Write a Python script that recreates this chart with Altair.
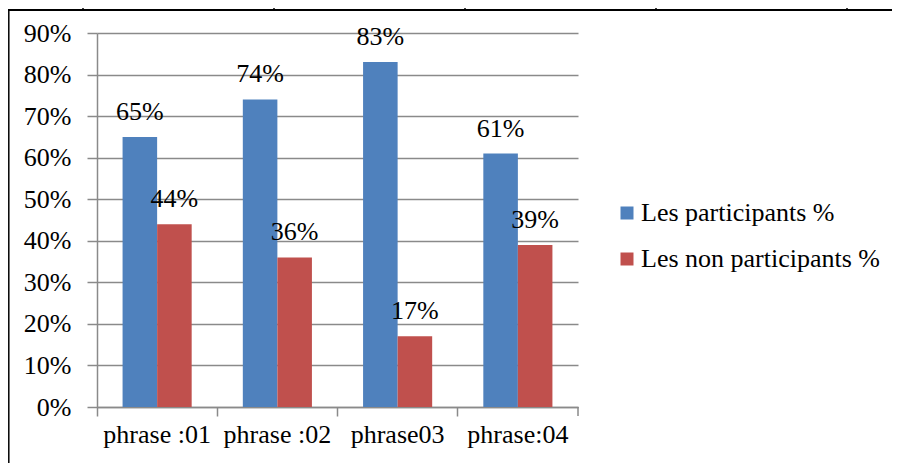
import altair as alt
import pandas as pd

phrases = ["phrase :01", "phrase :02", "phrase03", "phrase:04"]
series = ["Les participants %", "Les non participants %"]
participants = [65, 74, 83, 61]
non_participants = [44, 36, 17, 39]
y_ticks = [0, 10, 20, 30, 40, 50, 60, 70, 80, 90]
colors = ["#4F81BD", "#C0504D"]

rows = []
for p, a, b in zip(phrases, participants, non_participants):
    rows.append({"phrase": p, "serie": series[0], "val": a})
    rows.append({"phrase": p, "serie": series[1], "val": b})
df = pd.DataFrame(rows)

FONT = "'Liberation Serif', 'Times New Roman', 'DejaVu Serif', serif"
FS = 26
W, H = 481, 374

x_enc = alt.X("phrase:N", sort=phrases, title=None,
              scale=alt.Scale(paddingInner=0, paddingOuter=0),
              axis=alt.Axis(labelAngle=0, bandPosition=0, domainColor="#8a8a8a",
                            domainWidth=1.5, tickColor="#8a8a8a", tickWidth=1.5,
                            tickSize=9, labelFont=FONT, labelFontSize=FS,
                            labelColor="black", labelPadding=5, grid=False))
xo_enc = alt.XOffset("serie:N", sort=series,
                     scale=alt.Scale(paddingInner=0, paddingOuter=0.74))
y_enc = alt.Y("val:Q", title=None,
              scale=alt.Scale(domain=[0, 90], nice=False),
              axis=alt.Axis(values=y_ticks, labelExpr="datum.value + '%'",
                            gridColor="#8a8a8a", gridWidth=1.5,
                            domainColor="#8a8a8a", domainWidth=1.5,
                            tickColor="#8a8a8a", tickWidth=1.5, tickSize=10,
                            labelFont=FONT, labelFontSize=FS, labelColor="black",
                            labelPadding=16))

bars = alt.Chart(df).mark_bar().encode(
    x=x_enc, xOffset=xo_enc, y=y_enc,
    color=alt.Color("serie:N", sort=series, title=None,
                    scale=alt.Scale(domain=series, range=colors),
                    legend=alt.Legend(orient="none", legendX=517, legendY=167,
                                      symbolType="square", symbolSize=169,
                                      symbolStrokeWidth=0, labelFont=FONT,
                                      labelFontSize=FS, labelColor="black",
                                      labelOffset=1, rowPadding=20, padding=0,
                                      labelLimit=400))
)

labels = alt.Chart(df).mark_text(font=FONT, fontSize=FS, color="black",
                                 baseline="alphabetic", dy=-17).encode(
    x=alt.X("phrase:N", sort=phrases), xOffset=alt.XOffset("serie:N", sort=series),
    y="val:Q"
).transform_calculate(lbl="datum.val + '%'").encode(text="lbl:N")

one = alt.Data(values=[{"k": 1}])
last_tick = alt.Chart(one).mark_rule(color="#8a8a8a", strokeWidth=1.5).encode(
    x=alt.value(W), y=alt.value(H), y2=alt.value(H + 9))
top_line = alt.Chart(one).mark_rule(color="black", strokeWidth=2).encode(
    x=alt.value(-89), x2=alt.value(803), y=alt.value(-23))
left_line = alt.Chart(one).mark_rule(color="black", strokeWidth=1.5).encode(
    x=alt.value(-88.2), y=alt.value(-23), y2=alt.value(431))
top_ticks = alt.Chart(alt.Data(values=[{"px": v} for v in [-14, 177, 368, 559, 750]])).mark_rule(
    color="black", strokeWidth=1.5).encode(
    x=alt.X("px:Q", scale=None), y=alt.value(-23), y2=alt.value(-33))

chart = alt.layer(bars, labels, last_tick, top_line, left_line, top_ticks).properties(
    width=W, height=H,
    autosize=alt.AutoSizeParams(type="none"),
    padding={"left": 89, "top": 25, "right": 314, "bottom": 56},
).configure_view(stroke=None)

chart.save("out.html", embed_options={"renderer": "svg", "actions": False})
